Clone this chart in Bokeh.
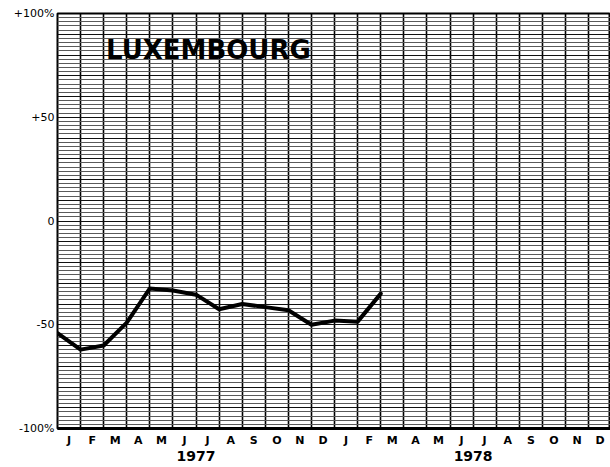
from bokeh.plotting import figure
from bokeh.models import Range1d, FixedTicker, LinearAxis, Label, ColumnDataSource
from bokeh.embed import file_html
from bokeh.resources import INLINE

# ---- data ----
month_labels = ["J", "F", "M", "A", "M", "J", "J", "A", "S", "O", "N", "D"] * 2
year_labels = ["1977", "1978"]
y_tick_values = [100, 50, 0, -50, -100]
y_tick_labels = ["+100%", "+50", "0", "-50", "-100%"]
series_index = list(range(15))  # month boundaries Jan 1977 .. Mar 1978
series_values = [-54, -62, -60, -49, -32.5, -33.5, -35.5, -42.5, -40, -41.5, -43, -50, -48, -48.5, -35]
title_text = "LUXEMBOURG"

n_months = len(month_labels)

p = figure(width=610, height=467, output_backend="svg", toolbar_location=None,
           x_range=Range1d(0, 23.95), y_range=Range1d(-100, 100),
           min_border_left=57, min_border_right=0, min_border_top=13, min_border_bottom=39,
           x_axis_location=None, y_axis_location=None)
p.background_fill_color = "white"
p.border_fill_color = "white"
p.outline_line_color = "black"
p.outline_line_width = 2

# horizontal grid: every 10% strong, every 2% light
p.ygrid.ticker = FixedTicker(ticks=list(range(-90, 100, 10)),
                             minor_ticks=[v for v in range(-98, 100, 2) if v % 10 != 0])
p.ygrid.grid_line_color = "#111111"
p.ygrid.grid_line_width = 1
p.ygrid.minor_grid_line_color = "#5a5a5a"
p.ygrid.minor_grid_line_width = 1

# vertical grid: month boundaries
p.xgrid.ticker = FixedTicker(ticks=list(range(0, n_months + 1)))
p.xgrid.grid_line_color = "black"
p.xgrid.grid_line_width = 1.6


def strip_ticks(ax):
    ax.major_tick_line_color = None
    ax.minor_tick_line_color = None
    ax.major_tick_out = 0
    ax.major_tick_in = 0
    ax.minor_tick_out = 0
    ax.minor_tick_in = 0
    ax.axis_label_standoff = 0


# y axis
yax = LinearAxis(ticker=FixedTicker(ticks=y_tick_values),
                 major_label_overrides={v: t for v, t in zip(y_tick_values, y_tick_labels)})
strip_ticks(yax)
yax.axis_line_color = None
yax.major_label_standoff = 3
yax.major_label_text_font = "DejaVu Sans"
yax.major_label_text_font_size = "11px"
yax.major_label_text_color = "black"
p.add_layout(yax, "left")

# x axis months
mpos = [i + 0.5 for i in range(n_months)]
xax = LinearAxis(ticker=FixedTicker(ticks=mpos),
                 major_label_overrides={m: t for m, t in zip(mpos, month_labels)})
strip_ticks(xax)
xax.axis_line_color = "black"
xax.axis_line_width = 3
xax.major_label_standoff = 5
xax.major_label_text_font = "DejaVu Sans"
xax.major_label_text_font_size = "11px"
xax.major_label_text_font_style = "bold"
xax.major_label_text_color = "black"
p.add_layout(xax, "below")

# x axis years
ypos = [6 + 12 * i for i in range(len(year_labels))]
yrax = LinearAxis(ticker=FixedTicker(ticks=ypos),
                  major_label_overrides={v: t for v, t in zip(ypos, year_labels)})
strip_ticks(yrax)
yrax.axis_line_color = None
yrax.major_label_standoff = 1
yrax.major_label_text_font = "DejaVu Sans"
yrax.major_label_text_font_size = "14px"
yrax.major_label_text_font_style = "bold"
yrax.major_label_text_color = "black"
p.add_layout(yrax, "below")

# series line
src = ColumnDataSource(dict(x=series_index, y=series_values))
p.line("x", "y", source=src, line_color="black", line_width=4, line_join="round", line_cap="round")

# title
p.add_layout(Label(x=2.1, y=82.5, text=title_text, text_font="DejaVu Sans",
                   text_font_size="26px", text_font_style="bold", text_color="black",
                   text_baseline="middle", text_align="left"))

open("out.html", "w").write(file_html(p, INLINE))
